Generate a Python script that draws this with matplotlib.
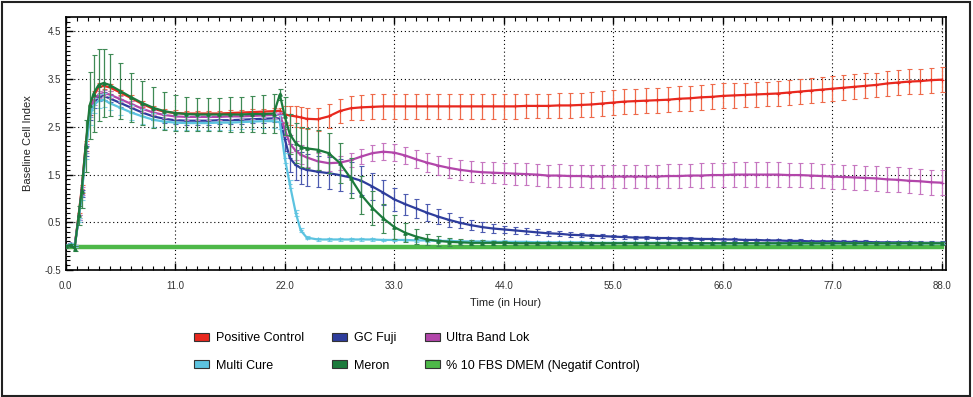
import matplotlib.pyplot as plt
import matplotlib.patches as mpatches
from matplotlib.ticker import MultipleLocator
import numpy as np

# time points (hours)
hours = [0.0, 0.5, 0.9, 1.3, 1.6, 2.0, 2.4, 2.8, 3.3, 3.8,
         4.4, 5.5, 6.6, 7.7, 8.8, 9.9, 11.0, 12.1, 13.2, 14.3,
         15.4, 16.5, 17.6, 18.7, 19.8, 20.9, 21.5, 22.0, 22.5, 23.1,
         23.6, 24.2, 25.3, 26.4, 27.5, 28.6, 29.7, 30.8, 31.9, 33.0,
         34.1, 35.2, 36.3, 37.4, 38.5, 39.6, 40.7, 41.8, 42.9, 44.0,
         45.1, 46.2, 47.3, 48.4, 49.5, 50.6, 51.7, 52.8, 53.9, 55.0,
         56.1, 57.2, 58.3, 59.4, 60.5, 61.6, 62.7, 63.8, 64.9, 66.0,
         67.1, 68.2, 69.3, 70.4, 71.5, 72.6, 73.7, 74.8, 75.9, 77.0,
         78.1, 79.2, 80.3, 81.4, 82.5, 83.6, 84.7, 85.8, 86.9, 88.0]

positive_control = [0.0, 0.05, 0.0, 0.65, 1.2, 2.1, 2.85, 3.15, 3.33, 3.36,
                    3.33, 3.22, 3.1, 2.98, 2.88, 2.82, 2.79, 2.78, 2.78, 2.78,
                    2.78, 2.79, 2.80, 2.81, 2.82, 2.83, 2.84, 2.76, 2.74, 2.72,
                    2.70, 2.67, 2.66, 2.72, 2.83, 2.89, 2.91, 2.92, 2.93, 2.93,
                    2.93, 2.93, 2.93, 2.93, 2.93, 2.93, 2.93, 2.93, 2.93, 2.93,
                    2.93, 2.94, 2.94, 2.94, 2.95, 2.95, 2.96, 2.97, 2.99, 3.01,
                    3.03, 3.04, 3.05, 3.06, 3.07, 3.09, 3.10, 3.12, 3.13, 3.15,
                    3.16, 3.17, 3.18, 3.19, 3.20, 3.22, 3.24, 3.26, 3.28, 3.30,
                    3.32, 3.34, 3.36, 3.38, 3.41, 3.43, 3.45, 3.46, 3.48, 3.49]
positive_err = [0.02, 0.02, 0.02, 0.05, 0.08, 0.10, 0.10, 0.10, 0.08, 0.07,
                0.07, 0.06, 0.06, 0.06, 0.06, 0.06, 0.06, 0.06, 0.06, 0.06,
                0.06, 0.06, 0.06, 0.06, 0.06, 0.06, 0.06, 0.18, 0.20, 0.22,
                0.22, 0.22, 0.24, 0.25, 0.25, 0.25, 0.26, 0.26, 0.26, 0.26,
                0.26, 0.26, 0.26, 0.26, 0.26, 0.26, 0.26, 0.26, 0.26, 0.26,
                0.26, 0.26, 0.26, 0.26, 0.26, 0.26, 0.26, 0.26, 0.26, 0.26,
                0.26, 0.26, 0.26, 0.26, 0.26, 0.26, 0.26, 0.26, 0.26, 0.26,
                0.26, 0.26, 0.26, 0.26, 0.26, 0.26, 0.26, 0.26, 0.26, 0.26,
                0.26, 0.26, 0.26, 0.26, 0.26, 0.26, 0.26, 0.26, 0.26, 0.26]

gc_fuji = [0.0, 0.05, 0.0, 0.6, 1.1, 2.0, 2.75, 3.0, 3.12, 3.15,
           3.1, 3.0, 2.9, 2.8, 2.72, 2.67, 2.64, 2.63, 2.63, 2.63,
           2.64, 2.64, 2.65, 2.66, 2.67, 2.68, 2.68, 2.25, 1.85, 1.70,
           1.64, 1.60, 1.56, 1.53, 1.49, 1.44, 1.37, 1.25, 1.12, 0.98,
           0.88, 0.79, 0.70, 0.62, 0.55, 0.49, 0.44, 0.40, 0.37, 0.35,
           0.33, 0.31, 0.29, 0.27, 0.26, 0.24, 0.23, 0.22, 0.21, 0.20,
           0.19, 0.18, 0.18, 0.17, 0.17, 0.16, 0.16, 0.15, 0.15, 0.14,
           0.14, 0.13, 0.13, 0.12, 0.12, 0.11, 0.11, 0.10, 0.10, 0.10,
           0.09, 0.09, 0.09, 0.08, 0.08, 0.08, 0.08, 0.07, 0.07, 0.07]
gc_fuji_err = [0.02, 0.02, 0.02, 0.05, 0.08, 0.10, 0.10, 0.10, 0.08, 0.08,
               0.08, 0.08, 0.08, 0.08, 0.08, 0.08, 0.08, 0.08, 0.08, 0.08,
               0.08, 0.08, 0.08, 0.08, 0.08, 0.08, 0.08, 0.25, 0.30, 0.32,
               0.33, 0.33, 0.33, 0.33, 0.33, 0.32, 0.30, 0.28, 0.26, 0.24,
               0.22, 0.20, 0.18, 0.16, 0.14, 0.12, 0.11, 0.10, 0.09, 0.08,
               0.07, 0.06, 0.06, 0.05, 0.05, 0.05, 0.04, 0.04, 0.04, 0.04,
               0.04, 0.04, 0.04, 0.03, 0.03, 0.03, 0.03, 0.03, 0.03, 0.03,
               0.03, 0.03, 0.03, 0.03, 0.03, 0.03, 0.03, 0.03, 0.03, 0.03,
               0.03, 0.03, 0.03, 0.03, 0.03, 0.03, 0.03, 0.03, 0.03, 0.03]

ultra_band_lok = [0.0, 0.05, 0.0, 0.6, 1.15, 2.05, 2.8, 3.05, 3.18, 3.21,
                  3.18, 3.08, 2.98, 2.88, 2.80, 2.75, 2.72, 2.71, 2.71, 2.71,
                  2.71, 2.72, 2.72, 2.73, 2.74, 2.75, 2.76, 2.45, 2.15, 2.00,
                  1.92, 1.86, 1.78, 1.74, 1.75, 1.80, 1.88, 1.95, 1.98, 1.96,
                  1.90, 1.82, 1.75, 1.69, 1.64, 1.60, 1.57, 1.55, 1.54, 1.53,
                  1.52, 1.51, 1.50, 1.48, 1.48, 1.47, 1.47, 1.46, 1.46, 1.46,
                  1.46, 1.46, 1.46, 1.46, 1.47, 1.47, 1.48, 1.48, 1.49, 1.49,
                  1.50, 1.50, 1.50, 1.50, 1.50, 1.49, 1.49, 1.48, 1.47, 1.46,
                  1.45, 1.44, 1.43, 1.42, 1.40, 1.39, 1.37, 1.36, 1.34, 1.33]
ultra_band_lok_err = [0.02, 0.02, 0.02, 0.05, 0.08, 0.10, 0.10, 0.10, 0.08, 0.07,
                      0.07, 0.06, 0.06, 0.06, 0.06, 0.06, 0.06, 0.06, 0.06, 0.06,
                      0.06, 0.06, 0.06, 0.06, 0.06, 0.06, 0.06, 0.15, 0.18, 0.20,
                      0.20, 0.20, 0.18, 0.16, 0.15, 0.15, 0.16, 0.17, 0.18, 0.18,
                      0.18, 0.19, 0.20, 0.20, 0.21, 0.21, 0.22, 0.22, 0.22, 0.22,
                      0.23, 0.23, 0.23, 0.23, 0.24, 0.24, 0.24, 0.24, 0.25, 0.25,
                      0.25, 0.25, 0.25, 0.25, 0.25, 0.25, 0.25, 0.26, 0.26, 0.26,
                      0.26, 0.26, 0.26, 0.26, 0.26, 0.26, 0.26, 0.26, 0.26, 0.26,
                      0.26, 0.26, 0.26, 0.26, 0.26, 0.26, 0.26, 0.26, 0.26, 0.26]

multi_cure = [0.0, 0.05, 0.0, 0.55, 1.05, 1.95, 2.7, 2.95, 3.05, 3.07,
              3.0, 2.9, 2.8, 2.72, 2.65, 2.61, 2.59, 2.58, 2.58, 2.58,
              2.59, 2.59, 2.60, 2.61, 2.62, 2.62, 2.60, 1.85, 1.30, 0.70,
              0.33, 0.18, 0.14, 0.14, 0.14, 0.14, 0.14, 0.14, 0.13, 0.13,
              0.13, 0.12, 0.12, 0.11, 0.11, 0.10, 0.10, 0.10, 0.09, 0.09,
              0.09, 0.09, 0.08, 0.08, 0.08, 0.08, 0.08, 0.07, 0.07, 0.07,
              0.07, 0.07, 0.07, 0.07, 0.07, 0.07, 0.06, 0.06, 0.06, 0.06,
              0.06, 0.06, 0.06, 0.06, 0.06, 0.06, 0.06, 0.06, 0.06, 0.06,
              0.06, 0.06, 0.06, 0.06, 0.06, 0.06, 0.06, 0.06, 0.06, 0.06]
multi_cure_err = [0.02, 0.02, 0.02, 0.05, 0.08, 0.12, 0.15, 0.15, 0.15, 0.15,
                  0.15, 0.15, 0.15, 0.15, 0.15, 0.15, 0.15, 0.15, 0.15, 0.15,
                  0.15, 0.15, 0.15, 0.15, 0.15, 0.15, 0.15, 0.10, 0.08, 0.06,
                  0.04, 0.03, 0.03, 0.03, 0.03, 0.03, 0.03, 0.03, 0.03, 0.03,
                  0.03, 0.03, 0.03, 0.03, 0.03, 0.03, 0.03, 0.03, 0.03, 0.03,
                  0.02, 0.02, 0.02, 0.02, 0.02, 0.02, 0.02, 0.02, 0.02, 0.02,
                  0.02, 0.02, 0.02, 0.02, 0.02, 0.02, 0.02, 0.02, 0.02, 0.02,
                  0.02, 0.02, 0.02, 0.02, 0.02, 0.02, 0.02, 0.02, 0.02, 0.02,
                  0.02, 0.02, 0.02, 0.02, 0.02, 0.02, 0.02, 0.02, 0.02, 0.02]

meron = [0.0, 0.02, -0.05, 0.65, 1.15, 2.1, 2.95, 3.2, 3.38, 3.42,
         3.38, 3.25, 3.12, 3.0, 2.9, 2.83, 2.79, 2.77, 2.76, 2.76,
         2.76, 2.76, 2.76, 2.77, 2.77, 2.78, 3.18, 2.72, 2.35, 2.16,
         2.08, 2.05, 2.02, 1.95, 1.75, 1.43, 1.07, 0.80, 0.58, 0.40,
         0.28, 0.20, 0.14, 0.11, 0.09, 0.08, 0.07, 0.07, 0.07, 0.07,
         0.06, 0.06, 0.06, 0.06, 0.06, 0.06, 0.06, 0.06, 0.06, 0.06,
         0.06, 0.06, 0.06, 0.06, 0.06, 0.06, 0.06, 0.06, 0.06, 0.06,
         0.06, 0.06, 0.06, 0.06, 0.06, 0.06, 0.06, 0.06, 0.06, 0.06,
         0.06, 0.06, 0.06, 0.06, 0.06, 0.06, 0.06, 0.06, 0.06, 0.06]
meron_err = [0.02, 0.02, 0.05, 0.20, 0.35, 0.55, 0.70, 0.80, 0.75, 0.72,
             0.65, 0.58, 0.52, 0.47, 0.43, 0.40, 0.38, 0.36, 0.35, 0.35,
             0.35, 0.36, 0.37, 0.38, 0.39, 0.40, 0.12, 0.40, 0.42, 0.42,
             0.42, 0.42, 0.42, 0.42, 0.42, 0.42, 0.40, 0.36, 0.30, 0.25,
             0.20, 0.15, 0.12, 0.10, 0.08, 0.06, 0.05, 0.05, 0.04, 0.04,
             0.03, 0.03, 0.03, 0.03, 0.03, 0.03, 0.03, 0.03, 0.03, 0.03,
             0.03, 0.03, 0.03, 0.03, 0.03, 0.03, 0.03, 0.03, 0.03, 0.03,
             0.03, 0.03, 0.03, 0.03, 0.03, 0.03, 0.03, 0.03, 0.03, 0.03,
             0.03, 0.03, 0.03, 0.03, 0.03, 0.03, 0.03, 0.03, 0.03, 0.03]

neg_control = [-0.02] * len(hours)

labels = ['Positive Control', 'GC Fuji', 'Ultra Band Lok',
          'Multi Cure', 'Meron', '% 10 FBS DMEM (Negatif Control)']
colors = ['#e8281e', '#2e3d9c', '#b246aa', '#5cc3e0', '#1c7a3c', '#4db848']
err_colors = ['#ee6a4a', '#4d5bb0', '#c676c0', '#7fd0e8', '#3f8a55']

plt.rcParams['font.family'] = ['Liberation Sans', 'DejaVu Sans']

fig = plt.figure(figsize=(9.73, 3.97), dpi=100)
ax = fig.add_axes([65.7 / 973, 1 - 270 / 397, (946 - 65.7) / 973, (270 - 16.7) / 397])

ax.plot(hours, neg_control, color=colors[5], linewidth=3.2, zorder=2)

series = [(positive_control, positive_err, '+'),
          (gc_fuji, gc_fuji_err, '+'),
          (ultra_band_lok, ultra_band_lok_err, '+'),
          (multi_cure, multi_cure_err, '+'),
          (meron, meron_err, '^')]
order = [0, 2, 1, 3, 4]
for i in order:
    vals, err, mk = series[i]
    ax.errorbar(hours, vals, yerr=err, color=colors[i], ecolor=err_colors[i],
                elinewidth=0.9, capsize=1.8, capthick=0.8, linewidth=1.6,
                marker=mk, markersize=2.5 if mk != '+' else 3.5,
                markeredgewidth=0.8, zorder=3 + i)

ax.set_xlim(0, 88.4)
ax.set_ylim(-0.5, 4.81)
ax.set_xticks([0, 11, 22, 33, 44, 55, 66, 77, 88])
ax.set_xticklabels(['0.0', '11.0', '22.0', '33.0', '44.0', '55.0', '66.0', '77.0', '88.0'])
ax.set_yticks([-0.5, 0.5, 1.5, 2.5, 3.5, 4.5])
ax.set_yticklabels(['-0.5', '0.5', '1.5', '2.5', '3.5', '4.5'])
ax.xaxis.set_minor_locator(MultipleLocator(1.1))
ax.yaxis.set_minor_locator(MultipleLocator(0.1))
ax.tick_params(axis='both', which='major', direction='in', length=5, width=1.0,
               labelsize=7, labelcolor='#333333', top=True)
ax.tick_params(axis='both', which='minor', direction='in', length=3, width=0.8, top=True)
ax.tick_params(axis='x', pad=8)
ax.grid(True, which='major', linestyle=(0, (1, 2.5)), color='black', linewidth=0.8)
for s in ax.spines.values():
    s.set_linewidth(1.2)

ax.set_xlabel('Time (in Hour)', fontsize=8, color='#222222', labelpad=5)
ax.set_ylabel('Baseline Cell Index', fontsize=8, color='#222222', labelpad=8)

handles = [mpatches.Patch(facecolor=c, edgecolor='#333333', linewidth=0.8) for c in colors]
leg_order = [0, 3, 1, 4, 2, 5]
fig.legend([handles[k] for k in leg_order], [labels[k] for k in leg_order],
           ncol=3, loc='center left', bbox_to_anchor=(188 / 973, 1 - 352 / 397),
           frameon=False, fontsize=9, handlelength=1.2, handleheight=0.6,
           handletextpad=0.5, columnspacing=2.3, labelspacing=1.25, borderpad=0)

fig.add_artist(mpatches.Rectangle((2 / 973, 1 / 397), 968 / 973, 394 / 397,
                                  transform=fig.transFigure, fill=False,
                                  edgecolor='#222222', linewidth=1.5))

fig.savefig('out.png', dpi=100)
